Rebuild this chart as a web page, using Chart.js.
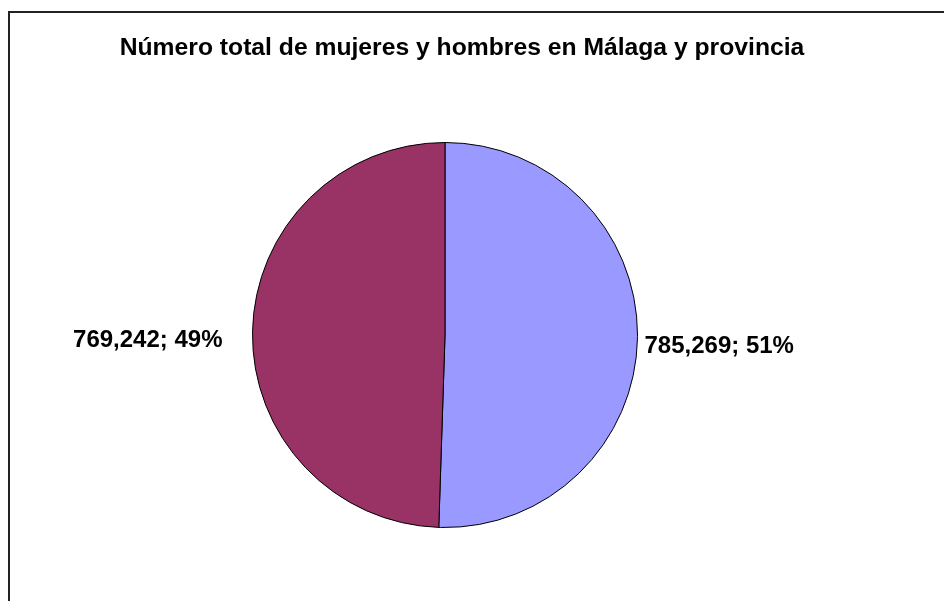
<!DOCTYPE html>
<html>
<head>
<meta charset="utf-8">
<script src="https://cdn.jsdelivr.net/npm/chart.js@4.4.0/dist/chart.umd.min.js"></script>
<style>
  html, body { margin: 0; padding: 0; background: #fff; overflow: hidden; }
  #marco { position: absolute; left: 8px; top: 11px; width: 1000px; height: 700px; border: 2px solid #222; box-sizing: border-box; }
  #lienzo { position: absolute; left: 0; top: 0; }
</style>
</head>
<body>
<div id="marco"></div>
<canvas id="lienzo" width="944" height="601"></canvas>
<script>
// Datos del gráfico
const titulo = "Número total de mujeres y hombres en Málaga y provincia";
const categorias = ["Mujeres", "Hombres"];
const valores = [785269, 769242];
const colores = ["#9999FF", "#993366"];

const total = valores.reduce((a, b) => a + b, 0);

// Título y etiquetas dibujados a mano sobre el canvas
const pluginTextos = {
  id: "textos",
  afterDraw(chart) {
    const ctx = chart.ctx;
    ctx.save();
    ctx.fillStyle = "#000";
    ctx.font = "bold 24.7px 'Liberation Sans', Arial, sans-serif";
    ctx.textAlign = "center";
    ctx.textBaseline = "alphabetic";
    ctx.fillText(titulo, 462, 55);

    ctx.font = "bold 24px 'Liberation Sans', Arial, sans-serif";
    const meta = chart.getDatasetMeta(0);
    meta.data.forEach((arc, i) => {
      const mid = (arc.startAngle + arc.endAngle) / 2;
      const texto = valores[i].toLocaleString("en-US") + "; " + Math.round(valores[i] / total * 100) + "%";
      const derecha = Math.cos(mid) >= 0;
      // posición fuera del sector
      const x = derecha ? arc.x + arc.outerRadius + 7 : arc.x - arc.outerRadius - 30;
      const y = derecha ? arc.y + 18 : arc.y + 12;
      ctx.textAlign = derecha ? "left" : "right";
      ctx.fillText(texto, x, y);
    });
    ctx.restore();
  }
};

const ctx = document.getElementById("lienzo").getContext("2d");
new Chart(ctx, {
  type: "pie",
  data: {
    labels: categorias,
    datasets: [{
      data: valores,
      backgroundColor: colores,
      borderColor: "#000",
      borderWidth: 1
    }]
  },
  options: {
    responsive: false,
    animation: false,
    layout: { padding: { top: 141, bottom: 72, left: 252, right: 306 } },
    plugins: {
      legend: { display: false },
      tooltip: { enabled: false },
      title: { display: false }
    }
  },
  plugins: [pluginTextos]
});
</script>
</body>
</html>
